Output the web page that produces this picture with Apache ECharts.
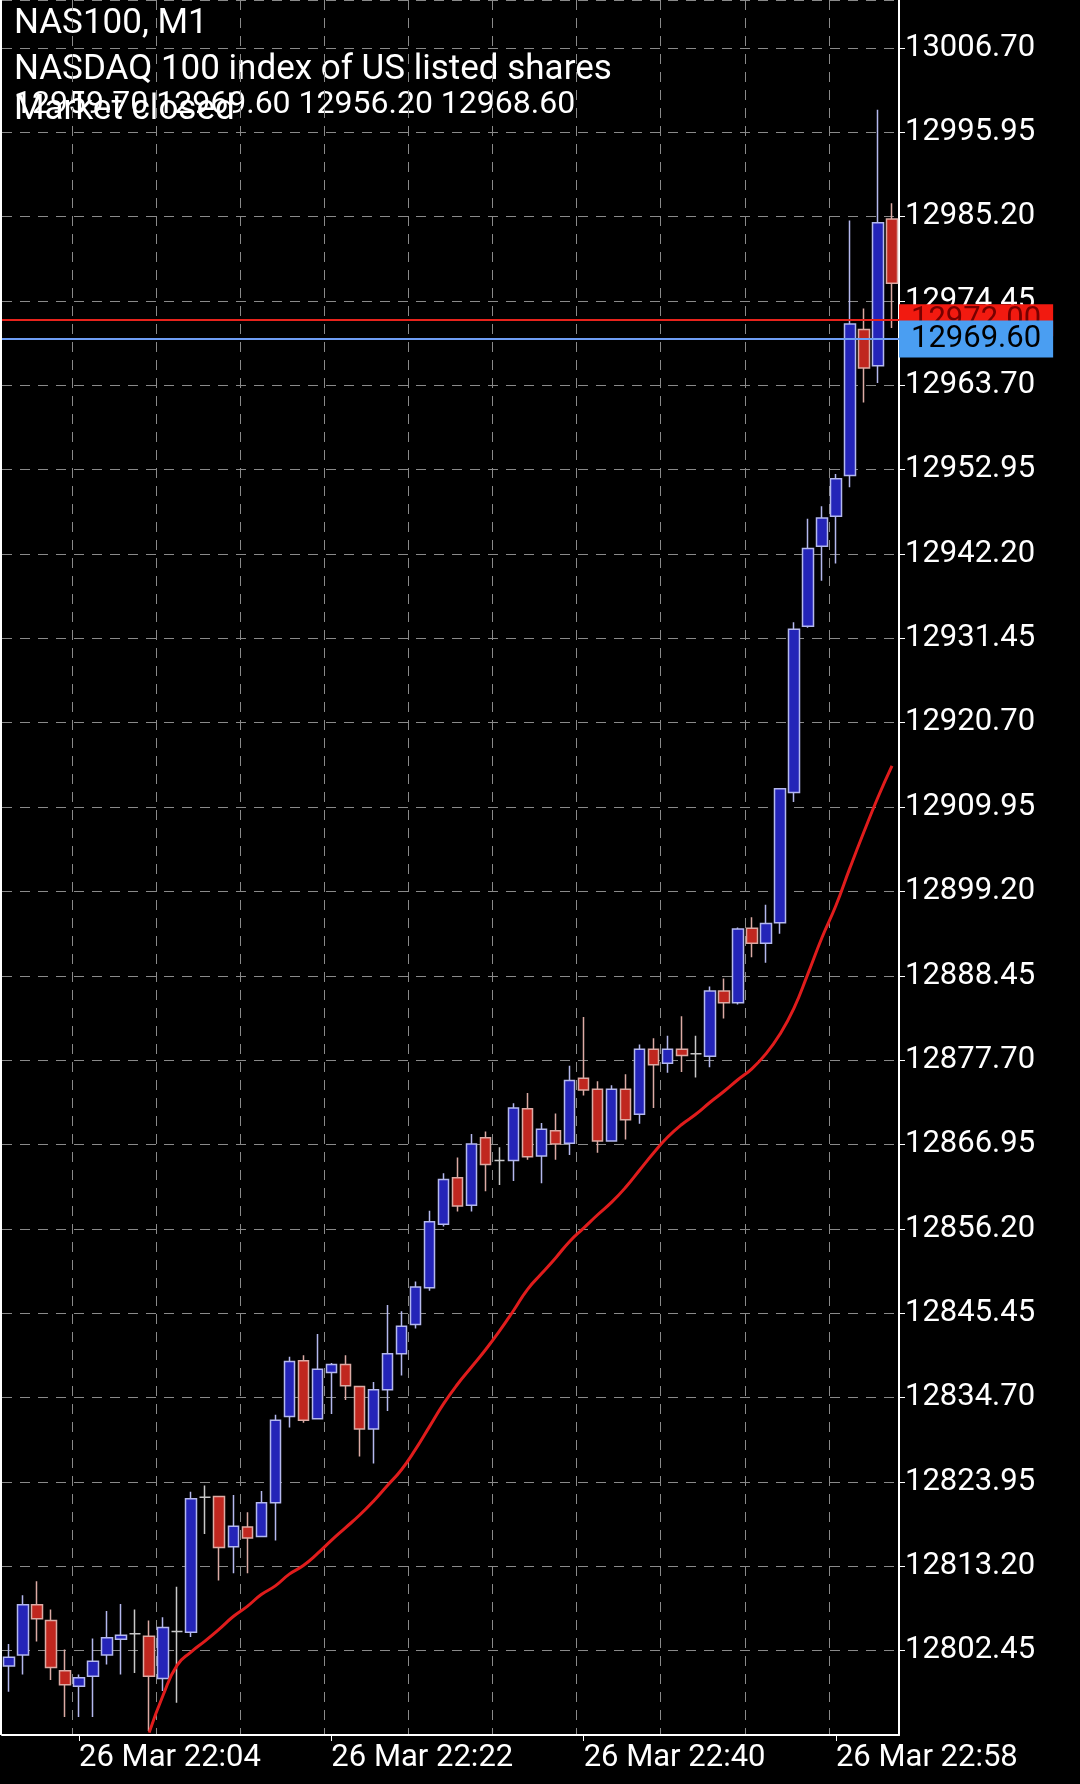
<!DOCTYPE html>
<html>
<head>
<meta charset="utf-8">
<script src="https://cdn.jsdelivr.net/npm/echarts@6/dist/echarts.min.js"></script>
<style>
html,body{margin:0;padding:0;background:#000;}
#chart{width:1080px;height:1784px;}
</style>
</head>
<body>
<div id="chart"></div>
<script>
// minutes 21:59 .. 23:02
var times = [];
for (var m = 0; m < 64; m++) {
	var t = 21 * 60 + 59 + m;
	var hh = Math.floor(t / 60), mm = t % 60;
	times.push('26 Mar ' + hh + ':' + (mm < 10 ? '0' + mm : mm));
}

// [open, close, low, high]
var candles = [
	[12800.5,12801.6,12797.2,12803.3],[12801.9,12808.3,12799.4,12809.5],[12808.3,12806.5,12803.6,12811.3],
	[12806.3,12800.3,12798.7,12807.7],[12799.9,12798.1,12794.0,12802.6],[12797.9,12799.0,12794.0,12799.4],
	[12799.2,12801.1,12794.0,12804.0],[12801.9,12804.1,12800.7,12807.5],[12803.9,12804.4,12799.4,12808.4],
	[12804.6,12804.6,12799.6,12807.7],[12804.3,12799.2,12792.2,12806.3],[12798.9,12805.4,12797.3,12806.7],
	[12804.9,12804.9,12795.8,12810.6],[12804.8,12821.8,12804.2,12822.7],[12822.0,12822.0,12817.3,12823.5],
	[12822.1,12815.6,12811.4,12822.1],[12815.7,12818.3,12812.3,12822.3],[12818.2,12816.8,12812.3,12820.1],
	[12817.0,12821.3,12816.9,12822.8],[12821.3,12831.8,12816.5,12832.5],[12832.3,12839.3,12830.9,12839.9],
	[12839.4,12831.8,12831.5,12840.1],[12832.0,12838.3,12831.9,12842.8],[12837.9,12838.9,12832.6,12839.1],
	[12838.9,12836.2,12834.4,12840.1],[12836.1,12830.7,12827.2,12836.1],[12830.7,12835.7,12826.3,12836.7],
	[12835.7,12840.3,12833.0,12846.5],[12840.3,12843.8,12837.5,12845.7],[12844.0,12848.8,12843.5,12849.5],
	[12848.7,12857.1,12848.3,12858.5],[12856.8,12862.5,12856.5,12863.3],[12862.7,12859.1,12858.4,12865.3],
	[12859.2,12867.0,12858.4,12868.3],[12867.8,12864.4,12861.0,12868.6],[12864.9,12864.9,12861.8,12866.6],
	[12864.9,12871.6,12862.3,12872.2],[12871.5,12865.4,12865.0,12873.5],[12865.5,12868.9,12862.0,12869.7],
	[12868.7,12867.0,12865.0,12870.9],[12867.1,12875.1,12865.6,12877.0],[12875.4,12873.9,12873.2,12883.2],
	[12874.0,12867.4,12865.9,12875.0],[12867.4,12874.0,12867.3,12874.5],[12874.0,12870.1,12867.6,12875.9],
	[12870.8,12879.1,12869.6,12879.7],[12879.1,12877.1,12871.6,12880.5],[12877.3,12879.1,12876.1,12880.8],
	[12879.1,12878.3,12876.2,12883.3],[12878.5,12878.5,12875.5,12880.8],[12878.2,12886.5,12876.8,12887.1],
	[12886.5,12885.0,12883.0,12888.1],[12885.0,12894.4,12884.8,12894.6],[12894.5,12892.6,12890.8,12895.9],
	[12892.6,12895.1,12890.1,12897.5],[12895.2,12912.3,12893.8,12912.3],[12911.8,12932.6,12910.6,12933.5],
	[12933.0,12942.9,12932.8,12946.7],[12943.2,12946.8,12938.8,12948.3],[12947.0,12951.8,12941.0,12952.4],
	[12952.2,12971.5,12950.7,12984.7],[12970.8,12965.9,12961.5,12973.5],[12966.2,12984.4,12964.0,12998.8],
	[12984.9,12976.7,12971.0,12986.9]
];

var maLine = [
	'-','-','-','-','-','-','-','-','-','-',12792.0,
	12796.8,12800.6,12802.3,12803.7,12805.2,12806.8,12808.1,12809.6,12810.7,12812.2,
	12813.3,12814.8,12816.5,12818.1,12819.7,12821.5,12823.5,12825.5,12828.1,12831.0,
	12833.9,12836.4,12838.6,12840.8,12843.2,12845.8,12848.5,12850.5,12852.5,12854.6,
	12856.3,12858.0,12859.6,12861.5,12863.7,12865.9,12867.9,12869.5,12870.8,12872.3,
	12873.7,12875.2,12876.6,12878.5,12881.0,12884.3,12888.7,12893.3,12897.4,12902.2,
	12906.8,12911.2,12915.2
];

var askPrice = 12972.00;
var bidPrice = 12969.60;
var yMin = 12791.70, yMax = 13012.80, yStep = 10.75;

var chart = echarts.init(document.getElementById('chart'));

chart.setOption({
	backgroundColor: '#000',
	animation: false,
	textStyle: { fontFamily: 'Roboto' },
	grid: { left: 2, right: 181, top: 0, bottom: 49 },
	graphic: [
		{ type: 'text', left: 14, top: 7, style: { text: 'NAS100, M1', fill: '#fff', font: '35px Roboto' } },
		{ type: 'text', left: 14, top: 53, style: { text: 'NASDAQ 100 index of US listed shares', fill: '#fff', font: '35px Roboto' } },
		{ type: 'text', left: 14, top: 89, style: { text: '12959.70 12969.60 12956.20 12968.60', fill: '#fff', font: '32px Roboto' } },
		{ type: 'text', left: 14, top: 93, style: { text: 'Market closed', fill: '#fff', font: '35px Roboto' } },
		{ type: 'rect', left: 0, top: 0, shape: { width: 2, height: 1735 }, style: { fill: '#fff' } }
	],
	xAxis: {
		type: 'category',
		data: times,
		boundaryGap: true,
		axisLine: { lineStyle: { color: '#fff', width: 2 } },
		axisTick: { show: true, interval: function (i) { return (i - 5) % 18 === 0; }, alignWithLabel: true, lineStyle: { color: '#fff' }, length: 6 },
		axisLabel: { color: '#fff', fontSize: 31, margin: 8, align: 'left', interval: function (i) { return (i - 5) % 18 === 0; } },
		splitLine: { show: true, interval: function (i) { return (i + 1) % 6 === 0; }, lineStyle: { color: '#8a8a8a', type: [10, 8], width: 1 } }
	},
	yAxis: {
		type: 'value',
		position: 'right',
		min: yMin, max: yMax, interval: yStep,
		axisLine: { show: true, lineStyle: { color: '#fff', width: 2 } },
		axisTick: { show: true, lineStyle: { color: '#fff' }, length: 6 },
		axisLabel: { color: '#fff', fontSize: 31, margin: 6, showMinLabel: false, showMaxLabel: false,
			formatter: function (v) { return v.toFixed(2); } },
		splitLine: { show: true, lineStyle: { color: '#8a8a8a', type: [10, 8], width: 1 } }
	},
	series: [
		{
			type: 'candlestick',
			data: candles,
			barWidth: 11,
			itemStyle: {
				color: '#2424b8', borderColor: '#b4b8ee',
				color0: '#c0271f', borderColor0: '#dcaaa4',
				borderColorDoji: '#c8c8c8', borderWidth: 1.5
			},
			markLine: {
				symbol: 'none',
				silent: true,
				data: [
					{ yAxis: askPrice, lineStyle: { color: '#e8231c', width: 2, type: 'solid' },
						label: { position: 'end', formatter: askPrice.toFixed(2), color: '#700', backgroundColor: '#f21a10', fontSize: 31, padding: [1, 12, 0, 12], distance: 0 } },
					{ yAxis: bidPrice, lineStyle: { color: '#6f9ef5', width: 2, type: 'solid' },
						label: { position: 'end', formatter: bidPrice.toFixed(2), color: '#000', backgroundColor: '#4a9ef2', fontSize: 31, padding: [3, 12, 3, 12], distance: 0 } }
				]
			}
		},
		{
			type: 'line',
			data: maLine,
			symbol: 'none',
			smooth: true,
			lineStyle: { color: '#e01c1c', width: 3 }
		}
	]
});
</script>
</body>
</html>
